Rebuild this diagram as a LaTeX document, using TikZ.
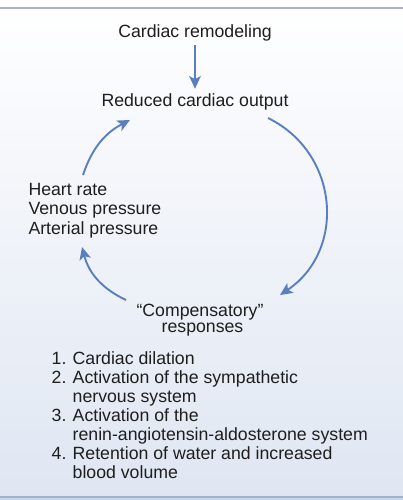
\documentclass[tikz,border=0pt]{standalone}
\usepackage{fontspec}
\setmainfont{Liberation Sans}
\usetikzlibrary{arrows.meta}
\definecolor{arrowblue}{HTML}{5B7EC1}
\definecolor{rulelilac}{HTML}{A8B1DA}
\definecolor{rulegray}{HTML}{A3B2CA}
\definecolor{edgeblue}{HTML}{C8D8EC}
\definecolor{panelblue}{HTML}{DFE6F2}
\definecolor{textgray}{HTML}{1E1E1E}
\begin{document}
\begin{tikzpicture}[x=1pt,y=-1pt,
		every node/.style={inner sep=0pt,text=textgray,font=\fontsize{17.7}{19}\selectfont},
		loopy/.style={->,>={Stealth[length=12.5pt,width=11.5pt,inset=3pt]},draw=arrowblue,line width=1.9pt}]
		\useasboundingbox (0,0) rectangle (403,500);
		\shade[top color=white,bottom color=panelblue] (0,0) rectangle (403,500);
		\fill[edgeblue] (0,497.5) rectangle (403,500);
		\draw[rulelilac,line width=2pt] (0,8.5) -- (403,8.5);
		\draw[rulegray,line width=2pt] (0,496.5) -- (403,496.5);
		% top of the cycle
		\node[anchor=base] (remod) at (195,37.5) {Cardiac remodeling};
		\node[anchor=base] (output) at (195,106.7) {Reduced cardiac output};
		\draw[loopy,shorten <=4pt,shorten >=5pt] (remod) -- (output);
		% left side
		\foreach \txt [count=\i] in {Heart rate,Venous pressure,Arterial pressure}{
			\node[anchor=base west] (h\i) at (28.3,{195.7+(\i-1)*19.2}) {\txt};
		}
		% bottom
		\node[anchor=base] (comp1) at (200,316.7) {``Compensatory''};
		\node[anchor=base] (comp2) at (202.5,332.7) {responses};
		\coordinate (c1) at (268,118);
		\coordinate (c2) at (280,295);
		\coordinate (c3) at (126,300);
		\coordinate (c4) at (82,247);
		\coordinate (c5) at (83,175);
		\coordinate (c6) at (130,120);
		\draw[loopy] (c1) to[bend left=60,looseness=1.15] (c2);
		\draw[loopy] (c3) to[bend left=25] (c4);
		\draw[loopy] (c5) to[bend left=22] (c6);
		% list of responses
		\foreach \num/\txt [count=\i] in {1./Cardiac dilation,2./Activation of the sympathetic,/nervous system,3./Activation of the,/renin-angiotensin-aldosterone system,4./Retention of water and increased,/blood volume}{
			\node[anchor=base west] (n\i) at (51.5,{364.3+(\i-1)*19.1}) {\num};
			\node[anchor=base west] (t\i) at (72.5,{364.3+(\i-1)*19.1}) {\txt};
		}
	\end{tikzpicture}
\end{document}
